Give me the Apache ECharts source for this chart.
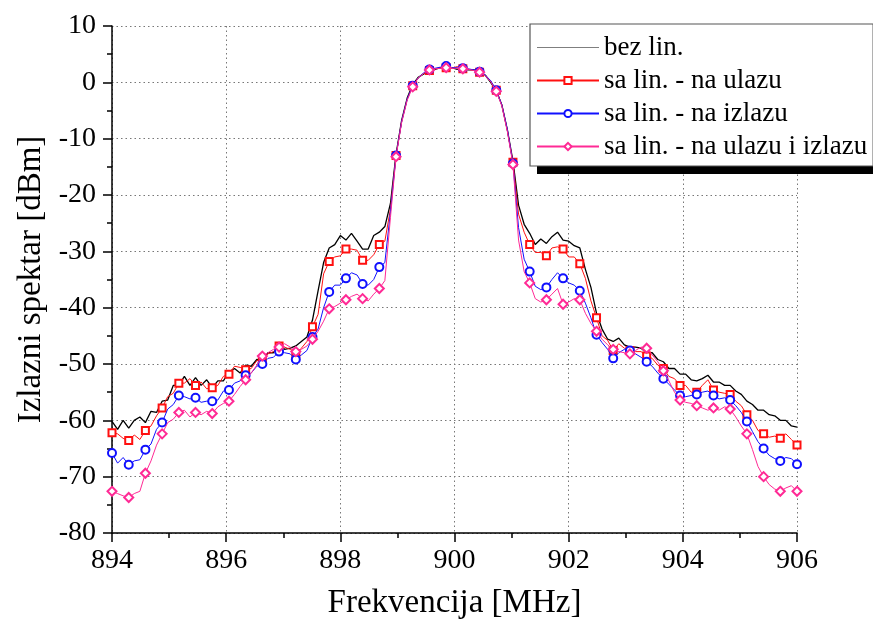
<!DOCTYPE html>
<html><head><meta charset="utf-8">
<script src="https://cdn.jsdelivr.net/npm/echarts@6/dist/echarts.min.js"></script>
<style>html,body{margin:0;padding:0;background:#fff}#c{width:873px;height:626px}</style>
</head><body><div id="c"></div>
<script>
const freq = [
894.000,894.098,894.195,894.293,894.390,894.488,894.585,894.683,894.780,894.878,
894.976,895.073,895.171,895.268,895.366,895.463,895.561,895.659,895.756,895.854,
895.951,896.049,896.146,896.244,896.341,896.439,896.537,896.634,896.732,896.829,
896.927,897.024,897.122,897.220,897.317,897.415,897.512,897.610,897.707,897.805,
897.902,898.000,898.098,898.195,898.293,898.390,898.488,898.585,898.683,898.780,
898.878,898.976,899.073,899.171,899.268,899.366,899.463,899.561,899.659,899.756,
899.854,899.951,900.049,900.146,900.244,900.341,900.439,900.537,900.634,900.732,
900.829,900.927,901.024,901.122,901.220,901.317,901.415,901.512,901.610,901.707,
901.805,901.902,902.000,902.098,902.195,902.293,902.390,902.488,902.585,902.683,
902.780,902.878,902.976,903.073,903.171,903.268,903.366,903.463,903.561,903.659,
903.756,903.854,903.951,904.049,904.146,904.244,904.341,904.439,904.537,904.634,
904.732,904.829,904.927,905.024,905.122,905.220,905.317,905.415,905.512,905.610,
905.707,905.805,905.902,906.000
];
const bezLin = [
-60.2,-61.6,-60.0,-61.4,-60.0,-59.4,-60.4,-58.4,-58.6,-56.6,
-56.4,-53.8,-53.8,-52.2,-53.8,-52.4,-53.8,-52.8,-54.2,-53.0,
-53.0,-51.4,-50.8,-51.6,-50.2,-50.4,-49.2,-49.4,-48.0,-48.0,
-46.2,-47.4,-47.2,-46.8,-46.0,-45.2,-42.2,-37.0,-32.0,-29.4,
-28.8,-27.2,-28.0,-26.8,-28.2,-29.6,-29.6,-27.2,-26.6,-25.6,
-21.5,-12.8,-6.8,-2.8,-0.4,0.9,1.5,2.2,2.3,2.6,
2.4,2.6,2.3,2.5,2.2,2.2,1.7,1.3,0.0,-1.5,
-4.0,-8.5,-14.0,-21.8,-25.2,-26.8,-28.8,-27.8,-28.6,-27.4,
-26.6,-28.0,-28.2,-29.0,-29.4,-33.2,-36.4,-41.0,-43.8,-45.6,
-46.0,-45.4,-46.6,-47.0,-47.0,-47.2,-48.0,-48.0,-49.2,-49.6,
-50.8,-50.8,-51.8,-51.8,-52.8,-53.0,-52.6,-52.0,-53.2,-53.2,
-53.8,-53.8,-54.8,-55.4,-56.6,-57.2,-58.2,-58.2,-59.0,-59.2,
-60.0,-60.0,-61.0,-61.2
];
const linUlaz = [
-62.2,-62.4,-63.2,-63.6,-62.6,-63.4,-61.8,-61.0,-59.2,-57.8,
-55.8,-55.2,-53.4,-53.4,-52.6,-53.8,-53.2,-54.4,-54.2,-53.8,
-52.2,-51.8,-50.4,-50.6,-51.0,-50.8,-49.4,-49.2,-48.2,-47.8,
-46.8,-47.0,-47.4,-48.2,-47.2,-46.0,-43.4,-41.2,-34.0,-31.8,
-31.0,-30.8,-29.6,-29.6,-29.8,-31.6,-31.6,-30.6,-28.8,-28.2,
-22.5,-13.0,-7.0,-3.0,-0.6,0.8,1.6,2.1,2.4,2.5,
2.6,2.5,2.8,2.4,2.3,2.1,1.8,1.3,0.2,-1.4,
-4.0,-8.6,-14.2,-23.4,-26.6,-28.8,-30.2,-30.2,-30.8,-29.4,
-29.2,-29.6,-31.0,-31.0,-32.2,-34.8,-38.8,-41.8,-45.0,-45.8,
-47.6,-46.4,-47.2,-47.6,-47.8,-47.8,-48.6,-49.0,-50.2,-50.8,
-52.2,-52.6,-53.8,-53.8,-55.0,-55.0,-53.8,-52.8,-54.6,-55.0,
-55.2,-55.4,-56.6,-57.4,-59.0,-60.0,-61.8,-62.4,-63.0,-62.8,
-63.2,-62.4,-63.4,-64.4
];
const linIzlaz = [
-65.8,-67.6,-66.6,-67.9,-67.2,-67.0,-65.2,-64.2,-61.6,-60.4,
-58.0,-57.2,-55.6,-55.8,-56.2,-56.0,-56.8,-56.6,-56.6,-56.4,
-54.8,-54.6,-53.4,-53.0,-52.0,-51.6,-50.4,-50.0,-49.0,-48.8,
-47.8,-48.0,-48.2,-49.2,-48.4,-47.6,-45.2,-43.8,-40.0,-37.2,
-36.0,-36.0,-34.8,-33.8,-34.2,-35.8,-36.0,-35.0,-32.8,-32.0,
-23.0,-13.0,-7.0,-3.0,-0.6,0.8,1.7,2.3,2.5,2.7,
2.9,2.6,2.6,2.5,2.4,2.2,1.9,1.3,0.3,-1.4,
-4.0,-8.4,-14.4,-25.8,-31.4,-33.6,-36.2,-36.8,-36.4,-35.0,
-33.8,-34.8,-35.6,-36.0,-37.0,-39.2,-41.8,-44.8,-46.2,-47.4,
-49.0,-48.0,-47.4,-47.6,-48.2,-48.8,-49.6,-50.4,-51.6,-52.6,
-53.6,-54.6,-55.6,-55.8,-55.6,-55.4,-55.0,-54.8,-55.6,-56.2,
-56.0,-56.4,-57.4,-58.6,-60.2,-62.0,-63.8,-65.0,-66.2,-66.8,
-67.2,-66.6,-66.8,-67.8
];
const linUlazIzlaz = [
-72.6,-73.0,-73.4,-73.7,-73.0,-72.6,-69.4,-67.2,-64.4,-62.4,
-60.4,-59.8,-58.6,-58.2,-59.4,-58.6,-59.0,-58.4,-58.8,-57.6,
-57.0,-56.6,-55.4,-54.0,-52.8,-51.6,-50.2,-48.6,-48.0,-47.4,
-47.0,-46.4,-47.0,-47.8,-47.4,-46.8,-45.6,-44.2,-42.4,-40.2,
-39.8,-39.2,-38.6,-38.0,-37.6,-38.4,-38.8,-37.6,-36.6,-35.2,
-24.0,-13.2,-7.2,-3.2,-0.8,0.8,1.6,2.2,2.4,2.5,
2.6,2.5,2.5,2.4,2.3,2.1,1.8,1.2,0.1,-1.6,
-4.2,-8.8,-14.6,-28.0,-33.6,-35.6,-38.4,-39.0,-38.6,-37.6,
-36.6,-39.4,-39.0,-38.4,-38.6,-41.0,-42.8,-44.2,-45.6,-46.6,
-47.4,-47.8,-48.0,-48.2,-47.6,-47.0,-47.2,-48.4,-49.6,-51.2,
-53.0,-55.0,-56.4,-56.8,-57.0,-57.4,-57.8,-58.2,-57.8,-58.2,
-57.6,-58.0,-59.4,-61.0,-62.4,-65.2,-68.2,-70.0,-71.4,-72.2,
-72.6,-72.0,-71.6,-72.6
];
const seriesNames = ['bez lin.', 'sa lin. - na ulazu', 'sa lin. - na izlazu', 'sa lin. - na ulazu i izlazu'];
const xTicks = { min: 894, max: 906, step: 2 };
const yTicks = { min: -80, max: 10, step: 10 };

const FONT = "'Liberation Serif', 'Times New Roman', serif";
const MARK_EVERY = 3;
function build(vals, withMarks) {
  return freq.map((f, i) => (withMarks && i % MARK_EVERY === 0)
    ? [f, vals[i]]
    : { value: [f, vals[i]], symbol: 'none' });
}
const colors = ['#000000', '#ff1010', '#1010ff', '#ff2a95'];
const symbols = ['none', 'emptyRect', 'emptyCircle', 'emptyDiamond'];
const sizes = [0, 7, 8, 9];
const values = [bezLin, linUlaz, linIzlaz, linUlazIzlaz];

const chart = echarts.init(document.getElementById('c'));
const axisCommon = {
  axisLine: { show: true, onZero: false, lineStyle: { color: '#000', width: 1.5 } },
  axisTick: { show: true, inside: false, length: 9, lineStyle: { color: '#000', width: 1.5 } },
  minorTick: { show: true, splitNumber: 2, length: 5, lineStyle: { color: '#000', width: 1.5 } },
  splitLine: { show: true, lineStyle: { type: [1.5, 3], color: '#777', width: 1 } },
  axisLabel: { color: '#000', fontSize: 28, fontFamily: FONT },
  nameLocation: 'middle',
  nameTextStyle: { color: '#000', fontSize: 33, fontFamily: FONT }
};
chart.setOption({
  animation: false,
  backgroundColor: '#fff',
  grid: { left: 112, right: 76, top: 26, bottom: 93 },
  xAxis: Object.assign({}, axisCommon, {
    type: 'value', min: xTicks.min, max: xTicks.max, interval: xTicks.step,
    name: 'Frekvencija [MHz]', nameGap: 54,
    axisLabel: Object.assign({}, axisCommon.axisLabel, { margin: 14 })
  }),
  yAxis: Object.assign({}, axisCommon, {
    type: 'value', min: yTicks.min, max: yTicks.max, interval: yTicks.step,
    name: 'Izlazni spektar [dBm]', nameGap: 62,
    axisLabel: Object.assign({}, axisCommon.axisLabel, { margin: 16 })
  }),
  graphic: [{
    type: 'rect', z: 20, silent: true,
    shape: { x: 537, y: 31, width: 345, height: 143 },
    style: { fill: '#000' }
  }],
  legend: {
    z: 30,
    left: 530, top: 24, orient: 'vertical',
    itemWidth: 62, itemHeight: 9, itemGap: 6,
    padding: [10, 6, 6, 6],
    backgroundColor: '#fff', borderColor: '#555', borderWidth: 1.2, borderRadius: 0,
    textStyle: { color: '#000', fontSize: 27, fontFamily: FONT },
    data: [
      { name: seriesNames[0], icon: 'path://M0,0H100V1.2H0Z' },
      seriesNames[1], seriesNames[2], seriesNames[3]
    ]
  },
  series: seriesNames.map((n, k) => ({
    name: n, type: 'line',
    data: build(values[k], k > 0),
    symbol: symbols[k], symbolSize: sizes[k],
    showSymbol: k > 0,
    color: colors[k],
    lineStyle: { color: colors[k], width: k === 0 ? 1.3 : 1 },
    itemStyle: { color: colors[k], borderWidth: 1 },
    emphasis: { disabled: true },
    z: 2 + k
  }))
});
</script></body></html>
